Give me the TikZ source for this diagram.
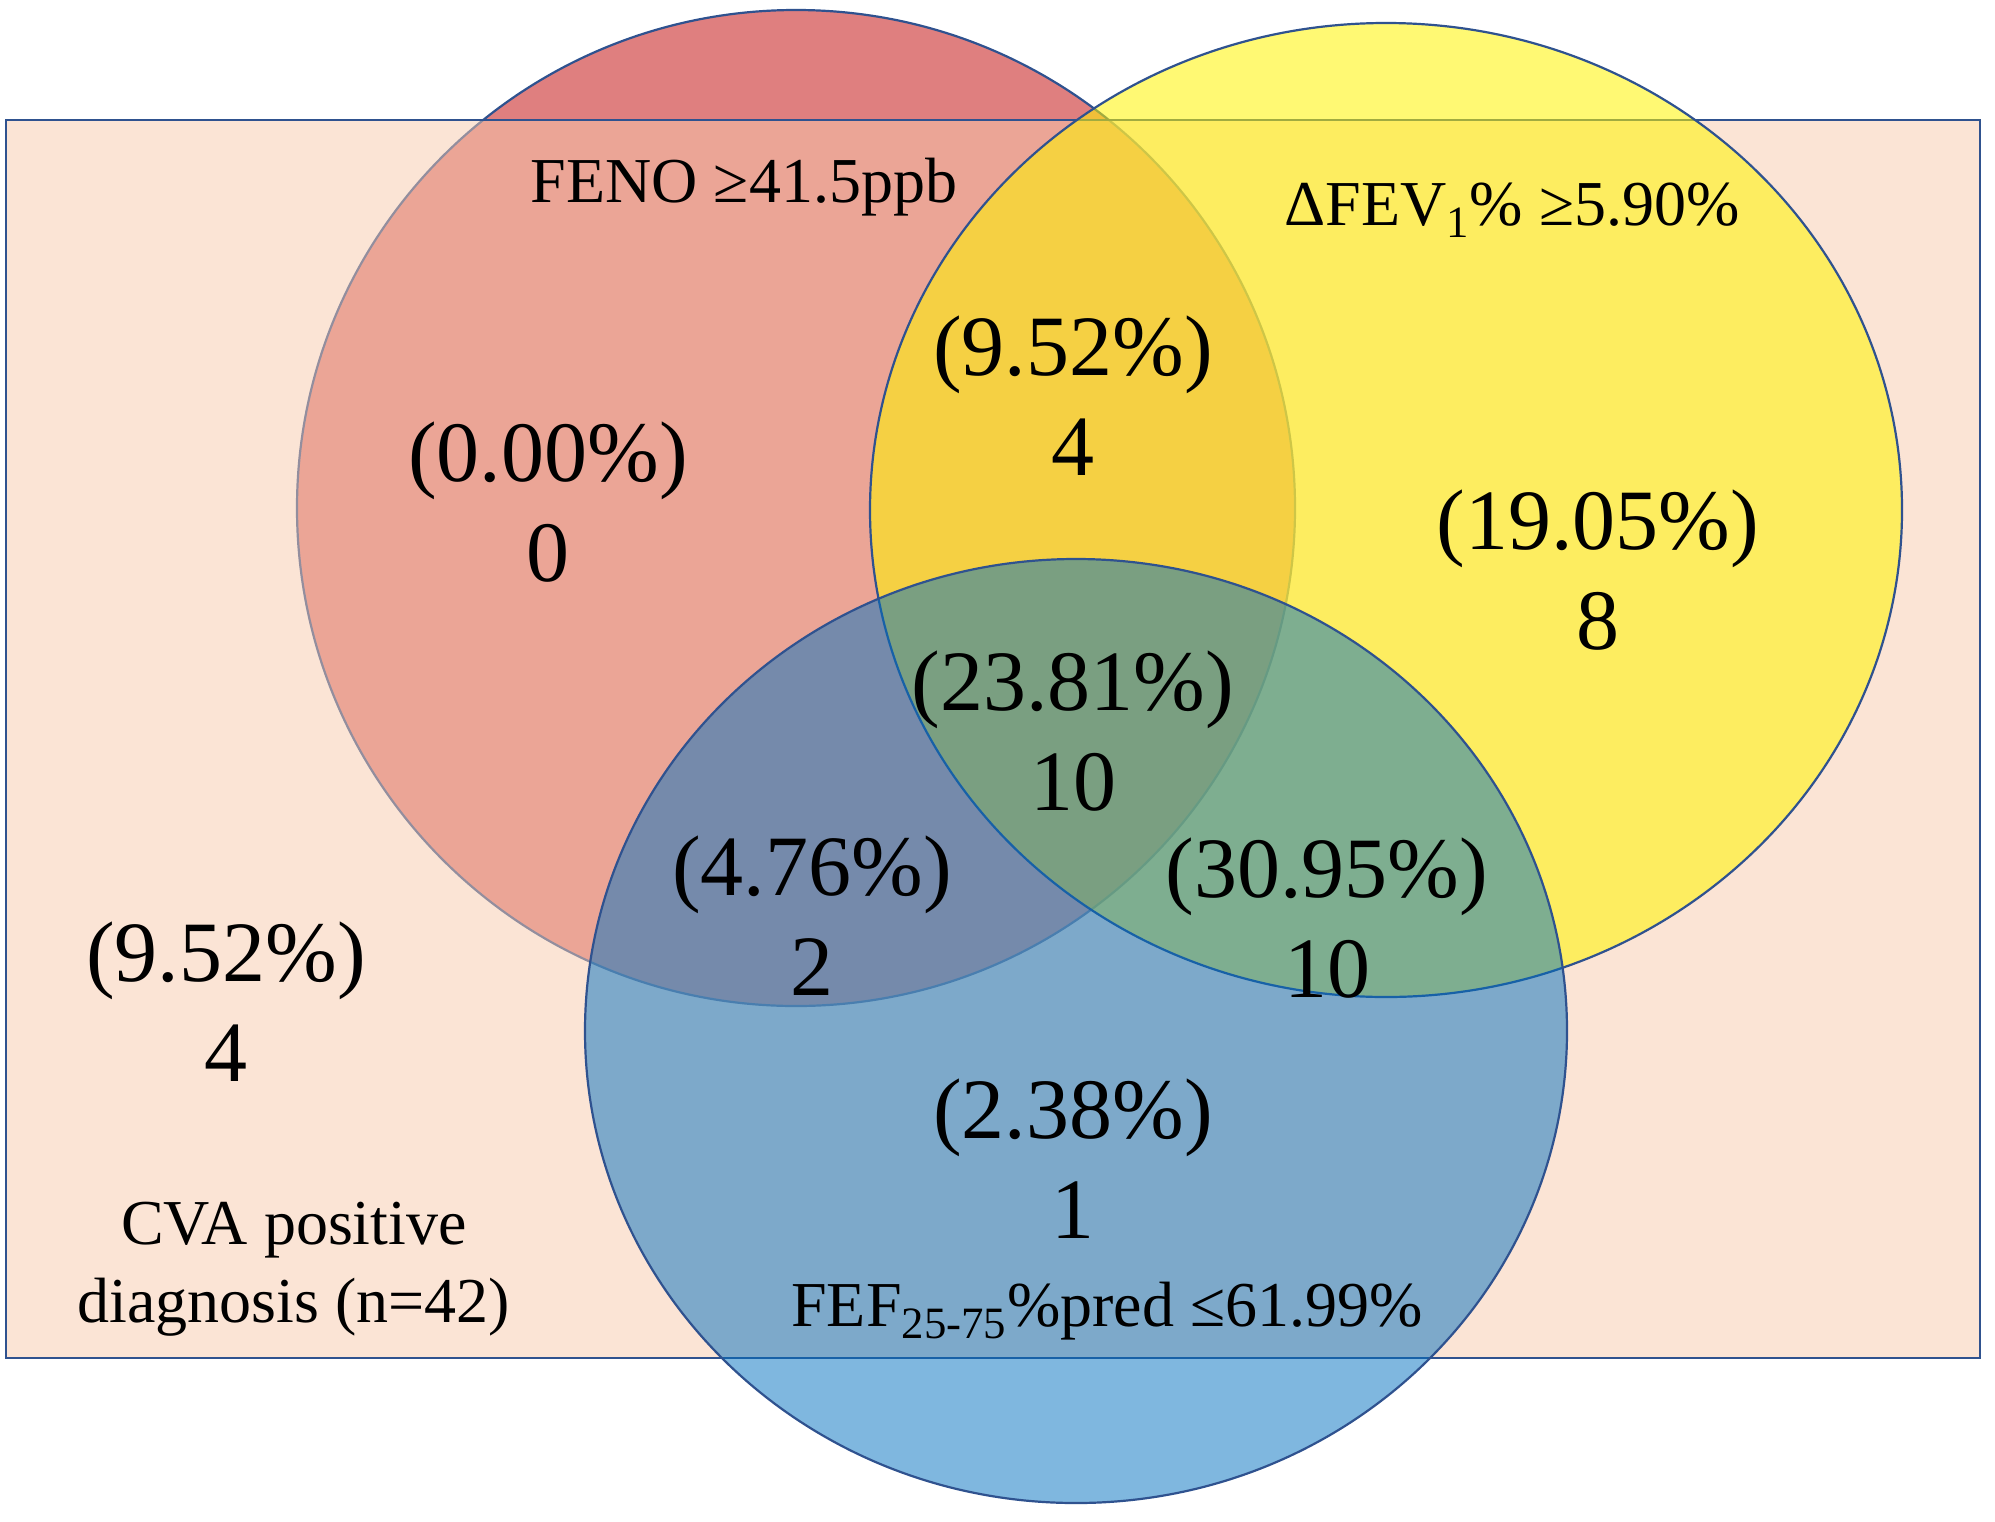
\documentclass[tikz,border=0pt]{standalone}
\usepackage{fontspec}
\setmainfont{Liberation Serif}
\definecolor{outl}{HTML}{2F528F}
\definecolor{redset}{HTML}{C00000}
\definecolor{rectset}{HTML}{F8CBAD}
\definecolor{yelset}{RGB}{255,245,0}
\definecolor{bluset}{HTML}{0070C0}
\begin{document}
\begin{tikzpicture}[x=0.5pt,y=-0.5pt,
  num/.style={align=center, font=\fontsize{43}{50}\selectfont, inner sep=0pt},
  lab/.style={align=center, font=\fontsize{32}{39}\selectfont, inner sep=0pt},
  setshape/.style={draw=outl, line width=1.1pt}]
\useasboundingbox (0,0) rectangle (1995,1521);
\fill[white] (0,0) rectangle (1995,1521);
% sets
\draw[setshape, fill=redset, fill opacity=0.5] (796,508) ellipse [x radius=499, y radius=498];
\draw[setshape, fill=rectset, fill opacity=0.5] (6,120) rectangle (1980,1358);
\draw[setshape, fill=yelset, fill opacity=0.55] (1386,510) ellipse [x radius=516, y radius=487];
\draw[setshape, fill=bluset, fill opacity=0.5] (1076,1031) ellipse [x radius=491, y radius=472];
% set labels
\node[lab] (feno) at (744,187) {FENO ≥41.5ppb};
\node[lab] (fev) at (1512,210) {ΔFEV\textsubscript{1}\% ≥5.90\%};
\node[lab] (fef) at (1107,1311) {FEF\textsubscript{25-75}\%pred ≤61.99\%};
\node[lab] (cva) at (294,1269) {CVA positive\\diagnosis (n=42)};
% counts
\node[num] (r) at (548,502) {(0.00\%)\\0};
\node[num] (ry) at (1073,396) {(9.52\%)\\4};
\node[num] (y) at (1598,570) {(19.05\%)\\8};
\node[num] (ryb) at (1073,731) {(23.81\%)\\10};
\node[num] (rb) at (812,916) {(4.76\%)\\2};
\node[num] (yb) at (1327,918) {(30.95\%)\\10};
\node[num] (none) at (226,1002) {(9.52\%)\\4};
\node[num] (b) at (1073,1159) {(2.38\%)\\1};
\end{tikzpicture}
\end{document}
